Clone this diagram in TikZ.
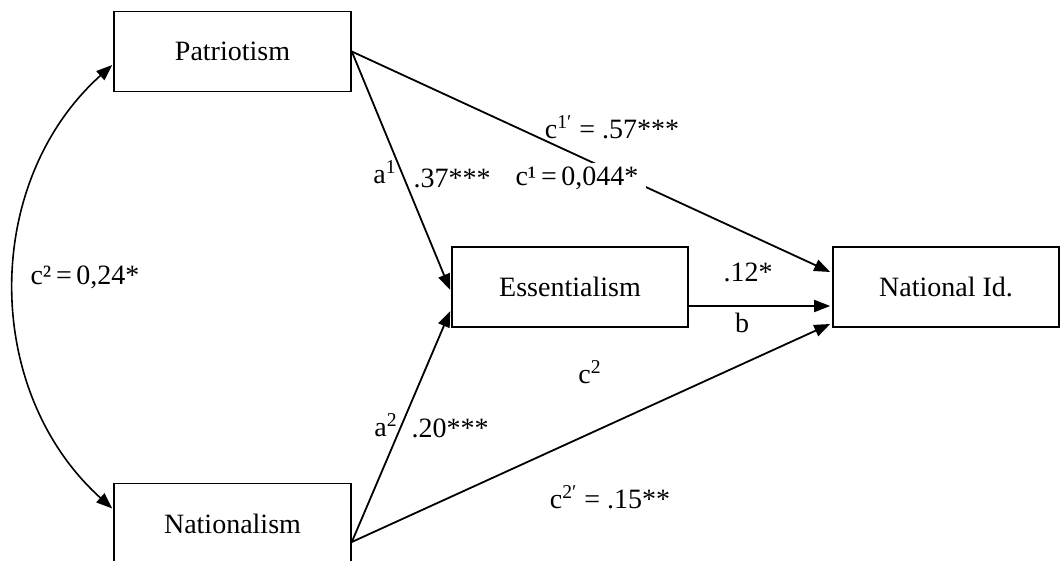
\documentclass[tikz,border=0pt]{standalone}
\usepackage{fontspec}
\setmainfont{Liberation Serif}
\usetikzlibrary{arrows.meta,calc}
\begin{document}
\begin{tikzpicture}[x=0.5pt,y=-0.5pt,
  font=\fontsize{14}{17}\selectfont,
  box/.style={draw,line width=0.8pt,rectangle,inner sep=0pt,minimum height=40pt},
  conn/.style={line width=0.9pt,-{Triangle[length=8pt,width=6pt]}},
  biconn/.style={line width=0.8pt,{Triangle[length=8pt,width=6pt]}-{Triangle[length=8pt,width=6pt]}},
  lab/.style={inner sep=1pt}]
\useasboundingbox (0,0) rectangle (1060,561);
\begin{scope}
\clip (0,0) rectangle (1060,561);
\node[box,minimum width=118.5pt] (P) at (232.5,51.5) {Patriotism};
\node[box,minimum width=118.5pt] (N) at (232.5,523.5) {Nationalism};
\node[box,minimum width=118pt] (E) at (570,287) {Essentialism};
\node[box,minimum width=113pt] (I) at (946,287) {National Id.};
\end{scope}
\draw[conn] (P.east) -- ($(E.west)+(-1,3)$);
\draw[conn] ($(N.east)+(0,18.5)$) -- ($(E.west)+(-1,24)$);
\draw[conn] (P.east) -- ($(I.west)+(-2,-15)$);
\draw[conn] ($(E.east)+(0,19)$) -- ($(I.west)+(-2,19)$);
\draw[conn] ($(N.east)+(0,18.5)$) -- ($(I.west)+(-2,37)$);
\draw[biconn] ($(N.west)+(-1,-15)$) .. controls (-18,391) and (-18,182) .. ($(P.west)+(-1,13.5)$);
\node[lab] (l1) at (612,127) {c\textsuperscript{1′} = .57***};
\node[lab] (l2) at (385,172) {a\textsuperscript{1}};
\node[lab] (l3) at (452,178) {.37***};
\node[fill=white,inner xsep=4pt,inner ysep=2pt] (l4) at (577,178) {c¹\,=\,0,044*};
\node[lab] (l5) at (748,272) {.12*};
\node[lab] (l6) at (742,323) {b};
\node[lab] (l7) at (590,372) {c\textsuperscript{2}};
\node[lab] (l8) at (386,425) {a\textsuperscript{2}};
\node[lab] (l9) at (450,428) {.20***};
\node[lab] (l10) at (610,497) {c\textsuperscript{2′} = .15**};
\node[lab] (l11) at (85,277) {c²\,=\,0,24*};
\end{tikzpicture}
\end{document}
